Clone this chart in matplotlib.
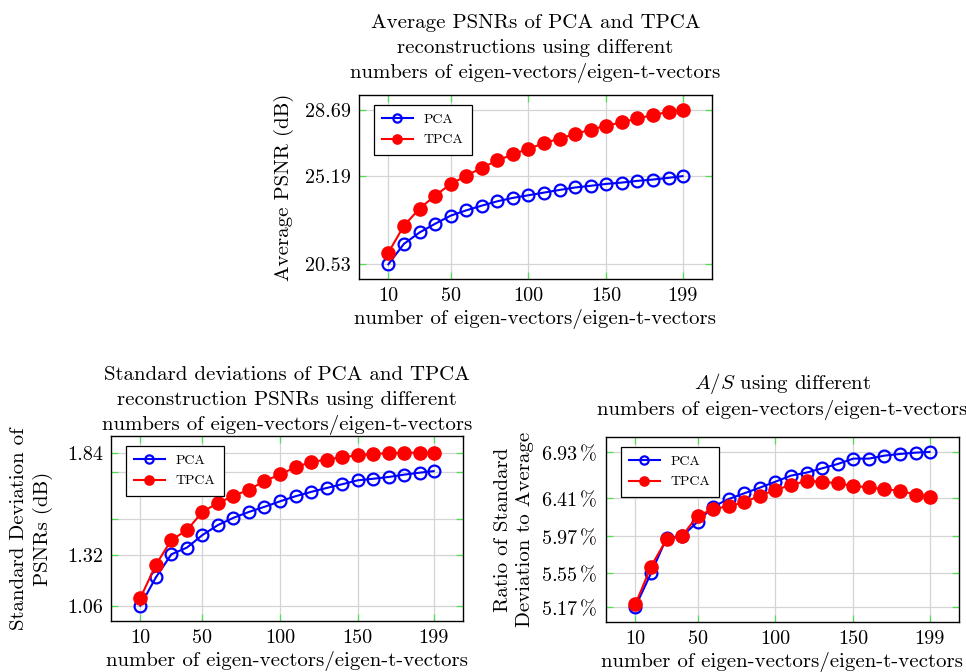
import matplotlib
matplotlib.use('Agg')
import matplotlib.pyplot as plt

plt.rcParams['font.family'] = ['cmr10', 'DejaVu Serif']
plt.rcParams['mathtext.fontset'] = 'cm'
plt.rcParams['axes.unicode_minus'] = False

# number of eigen-vectors
k = [10, 20, 30, 40, 50, 60, 70, 80, 90, 100,
     110, 120, 130, 140, 150, 160, 170, 180, 190, 199]

# average PSNR (dB)
psnr_pca = [20.53, 21.61, 22.21, 22.67, 23.10, 23.38, 23.63, 23.86, 24.04, 24.18,
            24.32, 24.46, 24.59, 24.68, 24.78, 24.85, 24.94, 25.01, 25.10, 25.19]
psnr_tpca = [21.15, 22.57, 23.47, 24.16, 24.77, 25.21, 25.63, 26.02, 26.34, 26.64,
             26.93, 27.18, 27.42, 27.65, 27.85, 28.04, 28.24, 28.42, 28.59, 28.69]

# standard deviation of PSNRs (dB)
std_pca = [1.06, 1.204, 1.322, 1.356, 1.420, 1.471, 1.508, 1.538, 1.564, 1.592,
           1.618, 1.640, 1.660, 1.679, 1.699, 1.707, 1.716, 1.728, 1.738, 1.746]
std_tpca = [1.099, 1.268, 1.395, 1.445, 1.538, 1.584, 1.619, 1.652, 1.695, 1.729,
            1.766, 1.792, 1.805, 1.817, 1.826, 1.834, 1.837, 1.84, 1.84, 1.84]

# ratio std / average (%)
ratio_pca = [5.17, 5.549, 5.95, 5.97, 6.137, 6.308, 6.395, 6.460, 6.524, 6.592,
             6.661, 6.695, 6.744, 6.793, 6.854, 6.854, 6.888, 6.907, 6.922, 6.93]
ratio_tpca = [5.197, 5.625, 5.936, 5.974, 6.205, 6.278, 6.315, 6.357, 6.433, 6.498,
              6.554, 6.600, 6.592, 6.573, 6.543, 6.528, 6.505, 6.490, 6.444, 6.422]

xticks = [10, 50, 100, 150, 199]
psnr_ticks = [20.53, 25.19, 28.69]
std_ticks = [1.06, 1.32, 1.50, 1.74, 1.84]
std_ticklabels = ['1.06', '1.32', '', '', '1.84']
ratio_ticks = [5.17, 5.55, 5.97, 6.41, 6.93]

GREEN = '#4fe04f'
FS = 15


def style_axes(ax, ylim, yticks, yticklabels):
    ax.set_xlim(-8.9, 217.9)
    ax.set_ylim(*ylim)
    ax.set_xticks(xticks)
    ax.set_xticklabels([str(t) for t in xticks])
    ax.set_yticks(yticks)
    ax.set_yticklabels(yticklabels)
    ax.grid(True, color='#d4d4d4', lw=0.9)
    ax.set_axisbelow(True)
    ax.tick_params(direction='in', length=5, width=0.9, color=GREEN,
                   top=True, right=True, labelsize=14.5, pad=6)
    for s in ax.spines.values():
        s.set_linewidth(1.0)
    ax.set_xlabel('number of eigen-vectors/eigen-t-vectors', fontsize=FS, labelpad=3)


def draw(ax, y1, y2):
    ax.plot(k, y1, color='#0000ff', lw=1.5, marker='o', ms=8.5, mfc='none',
            mew=1.6, label='PCA', zorder=3)
    ax.plot(k, y2, color='#ff0000', lw=1.5, marker='o', ms=9.5, mfc='#ff0000',
            mec='#ff0000', label='TPCA', zorder=3)
    leg = ax.legend(loc='upper left', bbox_to_anchor=(0.042, 0.946), fontsize=10,
                    fancybox=False, framealpha=1, edgecolor='black',
                    markerscale=0.7, handlelength=2.2, borderpad=0.6,
                    labelspacing=0.55, borderaxespad=0)
    leg.get_frame().set_linewidth(0.9)


fig = plt.figure(figsize=(9.66, 6.72), dpi=100)

ax1 = fig.add_axes([0.3716, 0.5848, 0.3654, 0.2738])
draw(ax1, psnr_pca, psnr_tpca)
style_axes(ax1, (19.75, 29.48), psnr_ticks, ['%.2f' % v for v in psnr_ticks])
ax1.set_ylabel('Average PSNR (dB)', fontsize=FS, labelpad=8)
ax1.set_title('Average PSNRs of PCA and TPCA\nreconstructions using different\n'
              'numbers of eigen-vectors/eigen-t-vectors', fontsize=FS, pad=12,
              linespacing=1.45)

ax2 = fig.add_axes([0.1149, 0.0759, 0.3644, 0.2753])
draw(ax2, std_pca, std_tpca)
style_axes(ax2, (0.982, 1.925), std_ticks, std_ticklabels)
ax2.set_ylabel('Standard Deviation of\nPSNRs (dB)', fontsize=FS, labelpad=10,
               linespacing=1.3)
ax2.set_title('Standard deviations of PCA and TPCA\nreconstruction PSNRs using different\n'
              'numbers of eigen-vectors/eigen-t-vectors', fontsize=FS, pad=4,
              linespacing=1.45)

ax3 = fig.add_axes([0.6273, 0.0744, 0.3654, 0.2753])
draw(ax3, ratio_pca, ratio_tpca)
style_axes(ax3, (4.996, 7.10), ratio_ticks,
           [r'$%.2f\,\%%$' % v for v in ratio_ticks])
ax3.set_ylabel('Ratio of Standard\nDeviation to Average', fontsize=FS, labelpad=5,
               linespacing=1.3)
ax3.set_title('$A/S$ using different\nnumbers of eigen-vectors/eigen-t-vectors',
              fontsize=FS, pad=16, linespacing=1.25)

fig.savefig('out.png', dpi=100)
